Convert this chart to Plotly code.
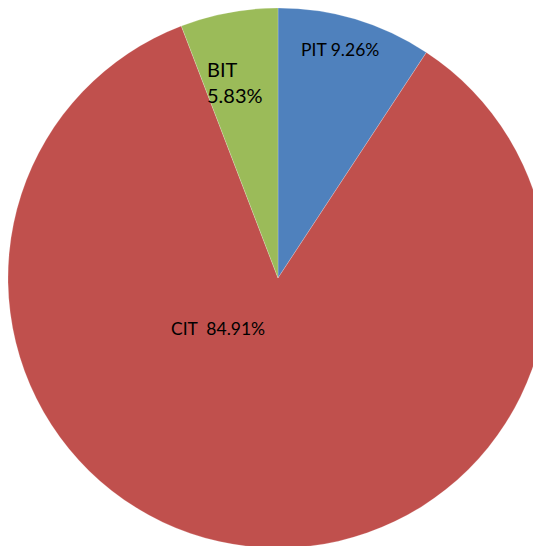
import plotly.graph_objects as go

labels = ["PIT", "CIT", "BIT"]
values = [9.26, 84.91, 5.83]
colors = ["#4F81BD", "#C0504D", "#9BBB59"]

W, H = 541, 546
OFF = 8  # page body margin shifts the plot

fig = go.Figure()
fig.add_trace(go.Pie(labels=labels, values=values,
                     sort=False, direction="clockwise", rotation=0,
                     marker=dict(colors=colors, line=dict(color="rgba(255,255,255,0.4)", width=0.5)),
                     textinfo="none", hoverinfo="skip", showlegend=False,
                     domain=dict(x=[0, 540 / W], y=[1 - 540 / H, 1])))

# labels placed by hand like the original
pos = {"PIT": (340, 50, "center", 17.5, " "),
       "CIT": (218, 328, "center", 17.5, "\u00a0 "),
       "BIT": (205, 82, "left", 20, "<br>")}
for lab, val in zip(labels, values):
    x, y, al, sz, sep = pos[lab]
    fig.add_annotation(x=(x - OFF) / W, y=1 - (y - OFF) / H, xref="paper", yref="paper",
                       text=f"{lab}{sep}{val:.2f}%", showarrow=False,
                       xanchor="left" if al == "left" else "center", yanchor="middle",
                       align=al, font=dict(family="Lato", size=sz, color="black"))

fig.update_layout(width=W, height=H, margin=dict(l=0, r=0, t=0, b=0),
                  paper_bgcolor="white", plot_bgcolor="white")
fig.write_html("out.html")
